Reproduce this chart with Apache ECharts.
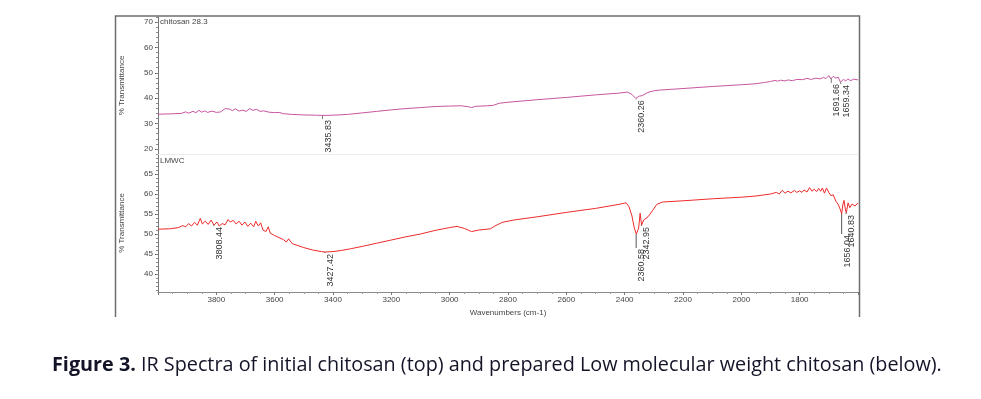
<!DOCTYPE html>
<html>
<head>
<meta charset="utf-8">
<script src="https://cdn.jsdelivr.net/npm/echarts@6/dist/echarts.min.js"></script>
<style>
  html, body { margin: 0; padding: 0; background: #fff; }
  #chart { width: 981px; height: 399px; }
</style>
</head>
<body>
<div id="chart"></div>
<script>
// top spectrum: initial chitosan (chitosan 28.3)
const topWn = [4000, 3960, 3920, 3905, 3895, 3880, 3870, 3860, 3850, 3840, 3830, 3815, 3800, 3785, 3770, 3755, 3745, 3735, 3722, 3710,
  3698, 3685, 3675, 3662, 3650, 3638, 3620, 3600, 3585, 3570, 3540, 3500, 3460, 3435, 3400, 3350, 3300, 3250, 3200, 3150,
  3100, 3050, 3000, 2960, 2935, 2925, 2910, 2870, 2850, 2830, 2800, 2700, 2600, 2500, 2420, 2390, 2375, 2362, 2350, 2340,
  2320, 2300, 2280, 2200, 2100, 2000, 1950, 1920, 1900, 1885, 1875, 1865, 1850, 1840, 1825, 1810, 1790, 1775, 1760, 1745,
  1730, 1718, 1710, 1700, 1693, 1685, 1676, 1668, 1660, 1650, 1642, 1635, 1625, 1615, 1600];
const topT = [33.7, 33.8, 34.0, 34.6, 34.1, 34.8, 34.3, 35.2, 34.5, 35.0, 34.4, 34.9, 34.4, 34.6, 35.9, 35.7, 35.1, 35.8, 34.9, 35.3,
  34.8, 35.9, 35.2, 35.6, 34.8, 35.0, 34.5, 34.3, 34.4, 33.9, 33.6, 33.4, 33.3, 33.2, 33.3, 33.6, 34.2, 34.8, 35.4, 35.9,
  36.3, 36.7, 36.9, 37.0, 36.6, 36.3, 36.8, 37.0, 37.2, 38.0, 38.4, 39.4, 40.3, 41.3, 42.0, 42.4, 41.5, 39.9, 40.8, 41.0,
  42.3, 42.9, 43.2, 43.8, 44.6, 45.3, 45.7, 46.2, 46.6, 47.0, 46.7, 47.1, 46.8, 47.2, 46.9, 47.4, 47.3, 47.8, 47.4, 47.9,
  47.6, 48.2, 47.7, 48.9, 47.6, 48.6, 47.9, 48.3, 46.3, 47.4, 46.8, 47.6, 46.9, 47.5, 47.2];

// bottom spectrum: low molecular weight chitosan (LMWC)
const lowWn = [4000, 3960, 3930, 3915, 3905, 3895, 3885, 3875, 3865, 3855, 3848, 3838, 3828, 3818, 3808, 3798, 3790, 3780, 3770, 3760,
  3752, 3742, 3732, 3722, 3712, 3702, 3692, 3682, 3672, 3665, 3656, 3648, 3640, 3630, 3622, 3615, 3600, 3585, 3570, 3560,
  3552, 3540, 3520, 3500, 3470, 3440, 3427, 3400, 3370, 3340, 3300, 3250, 3200, 3150, 3100, 3050, 3000, 2975, 2950, 2925,
  2900, 2860, 2845, 2820, 2780, 2700, 2600, 2500, 2420, 2395, 2385, 2375, 2367, 2360, 2352, 2347, 2342, 2335, 2320, 2305,
  2290, 2270, 2200, 2100, 2000, 1950, 1900, 1880, 1870, 1860, 1850, 1840, 1830, 1818, 1810, 1800, 1792, 1785, 1775, 1766,
  1758, 1750, 1742, 1735, 1728, 1722, 1715, 1708, 1700, 1693, 1685, 1676, 1668, 1660, 1656, 1652, 1648, 1643, 1640, 1634,
  1628, 1620, 1610, 1600];
const lowT = [51.2, 51.3, 51.6, 52.1, 51.8, 52.6, 52.0, 52.9, 52.2, 53.9, 52.5, 53.2, 52.4, 53.5, 52.2, 53.0, 52.0, 52.6, 52.3, 53.6,
  53.0, 53.4, 52.5, 53.2, 52.2, 53.0, 51.9, 52.7, 51.8, 53.2, 52.0, 52.8, 51.0, 50.6, 51.8, 50.2, 49.6, 49.1, 48.6, 48.0,
  48.8, 47.6, 47.1, 46.6, 46.0, 45.6, 45.5, 45.6, 45.9, 46.3, 46.9, 47.7, 48.5, 49.3, 50.0, 50.9, 51.6, 51.9, 51.4, 50.6,
  51.0, 51.3, 52.0, 52.9, 53.5, 54.3, 55.4, 56.4, 57.4, 57.8, 56.8, 54.5, 51.5, 50.0, 51.5, 55.2, 52.2, 53.5, 54.3, 55.8,
  57.4, 58.0, 58.3, 58.8, 59.2, 59.5, 60.0, 60.4, 60.0, 60.9, 60.2, 60.7, 60.3, 60.9, 60.4, 60.8, 60.4, 61.0, 60.5, 61.6,
  60.7, 61.2, 60.6, 61.4, 60.7, 61.5, 60.2, 61.5, 60.4, 59.6, 59.8, 58.2, 57.4, 56.0, 55.0, 57.3, 58.4, 56.0, 55.3, 57.8,
  56.6, 57.5, 57.0, 57.8];

// y tick labels
const topYTicks = [20, 30, 40, 50, 60, 70];
const lowYTicks = [40, 45, 50, 55, 60, 65];

// marked peaks: wavenumber, where the marker starts (on the curve) and ends
const topPeakWn = [3435.83, 2360.26, 1691.66, 1659.34];
const topPeakFrom = [33.2, 39.9, 48.0, 46.3];
const topPeakTo = [31.8, 39.6, 46.0, 45.6];

const lowPeakWn = [3808.44, 3427.42, 2360.58, 2342.95, 1656.04, 1640.83];
const lowPeakFrom = [52.2, 45.5, 50.0, 52.2, 55.0, 55.3];
const lowPeakTo = [52.0, 45.25, 46.5, 52.0, 50.0, 55.0];

// minor tick positions along the y axes
const topMinor = [];
for (let v = 20; v <= 72; v += 2) topMinor.push(v);
const lowMinor = [];
for (let v = 36; v <= 70; v += 1) lowMinor.push(v);

const FONT = '"Liberation Sans", Arial, sans-serif';
const CAPTION_FONT = '"Open Sans", sans-serif';

const zip = (a, b) => a.map((x, i) => [x, b[i]]);

function peakSeries(wn, from, to, xi, yi, tickColor) {
  return {
    type: 'custom',
    xAxisIndex: xi,
    yAxisIndex: yi,
    silent: true,
    z: 5,
    data: wn.map((w, i) => [w, from[i], to[i]]),
    renderItem: (params, api) => {
      const a = api.coord([api.value(0), api.value(1)]);
      const b = api.coord([api.value(0), api.value(2)]);
      return {
        type: 'group',
        children: [
          {type: 'line', shape: {x1: a[0], y1: a[1], x2: b[0], y2: b[1]}, style: {stroke: tickColor, lineWidth: 1}},
          {
            type: 'text', x: b[0] + 1, y: b[1] + 1, rotation: Math.PI / 2,
            style: {text: api.value(0).toFixed(2), align: 'right', verticalAlign: 'top', fill: '#333', font: '9px ' + FONT}
          }
        ]
      };
    }
  };
}

function xAxis(gi, visible) {
  return {
    gridIndex: gi, type: 'value', inverse: true, min: 1600, max: 4000, interval: 200,
    splitLine: {show: false},
    axisLine: {show: true, lineStyle: {color: visible ? '#8a8a8a' : '#ececec', width: 1}},
    axisTick: {show: visible, length: 3, lineStyle: {color: '#777'}},
    minorTick: {show: visible, splitNumber: 4, length: 2, lineStyle: {color: '#999'}},
    axisLabel: {
      show: visible, showMinLabel: false, showMaxLabel: false, fontSize: 8, color: '#444', margin: 4, fontFamily: FONT,
      formatter: v => String(v)
    },
    name: visible ? 'Wavenumbers (cm-1)' : '',
    nameLocation: 'middle', nameGap: 17,
    nameTextStyle: {fontSize: 8, color: '#444', fontFamily: FONT}
  };
}

function yMain(gi, min, max, ticks) {
  return {
    gridIndex: gi, type: 'value', position: 'left', min: min, max: max,
    splitLine: {show: false},
    axisLine: {show: true, lineStyle: {color: '#777', width: 1}},
    axisTick: {show: true, customValues: ticks, length: 3, lineStyle: {color: '#555'}},
    axisLabel: {customValues: ticks, fontSize: 8, color: '#444', margin: 5, fontFamily: FONT},
    name: '% Transmittance', nameLocation: 'middle', nameGap: 32,
    nameTextStyle: {fontSize: 8, color: '#444', fontFamily: FONT}
  };
}

function yMinor(gi, min, max, ticks) {
  return {
    gridIndex: gi, type: 'value', position: 'left', min: min, max: max,
    splitLine: {show: false},
    axisLine: {show: false},
    axisLabel: {show: false},
    axisTick: {show: true, customValues: ticks, length: 2, lineStyle: {color: '#888'}}
  };
}

const chart = echarts.init(document.getElementById('chart'));

chart.setOption({
  animation: false,
  grid: [
    {left: 158, right: 123, top: 17, height: 137},
    {left: 158, right: 123, top: 154, height: 138}
  ],
  xAxis: [xAxis(0, false), xAxis(1, true)],
  yAxis: [
    yMain(0, 18, 72, topYTicks), yMinor(0, 18, 72, topMinor),
    yMain(1, 35.5, 70, lowYTicks), yMinor(1, 35.5, 70, lowMinor)
  ],
  series: [
    {
      name: 'chitosan 28.3', type: 'line', xAxisIndex: 0, yAxisIndex: 0,
      data: zip(topWn, topT), showSymbol: false,
      lineStyle: {color: '#c8559f', width: 1}
    },
    {
      name: 'LMWC', type: 'line', xAxisIndex: 1, yAxisIndex: 2,
      data: zip(lowWn, lowT), showSymbol: false,
      lineStyle: {color: '#ee2a2a', width: 1}
    },
    peakSeries(topPeakWn, topPeakFrom, topPeakTo, 0, 0, '#777'),
    peakSeries(lowPeakWn, lowPeakFrom, lowPeakTo, 1, 2, '#555')
  ],
  graphic: [
    // outer frame (no bottom edge)
    {
      type: 'polyline', silent: true,
      shape: {points: [[115.5, 317], [115.5, 16], [859.5, 16], [859.5, 317]]},
      style: {stroke: '#6d6d6d', lineWidth: 1.5, fill: null}
    },
    {type: 'text', left: 160, top: 18, style: {text: 'chitosan 28.3', font: '8px ' + FONT, fill: '#444'}},
    {type: 'text', left: 160, top: 157, style: {text: 'LMWC', font: '8px ' + FONT, fill: '#444'}},
    {
      type: 'text', x: 52, y: 365,
      style: {
        text: '{b|Figure 3.} IR Spectra of initial chitosan (top) and prepared Low molecular weight chitosan (below).',
        fontSize: 19.8, fontFamily: CAPTION_FONT, fill: '#141428', verticalAlign: 'middle',
        rich: {b: {fontSize: 19.8, fontFamily: CAPTION_FONT, fontWeight: 'bold', fill: '#141428'}}
      }
    }
  ]
});
</script>
</body>
</html>
